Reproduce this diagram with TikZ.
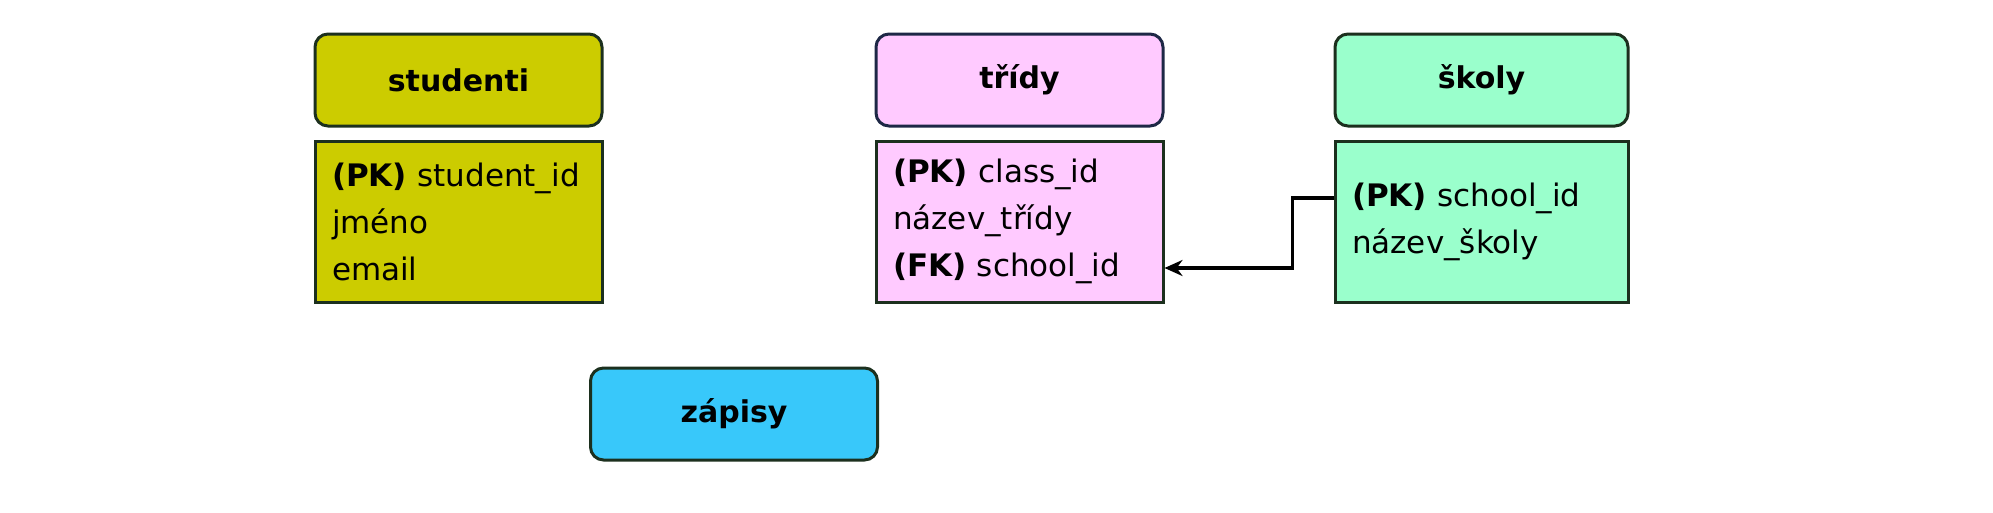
\documentclass[tikz,border=0pt]{standalone}
\usepackage{fontspec}
\setmainfont{DejaVu Sans}
\usetikzlibrary{arrows.meta}
\definecolor{cstud}{RGB}{204,204,0}
\definecolor{ctrid}{RGB}{255,202,255}
\definecolor{cskol}{RGB}{154,255,204}
\definecolor{czap}{RGB}{56,200,250}
\definecolor{cedge}{RGB}{28,48,30}
\definecolor{cedgeb}{RGB}{30,40,70}
\begin{document}
\begin{tikzpicture}[x=1pt,y=-1pt,
  hdr/.style={draw=cedge,line width=3pt,rounded corners=13pt,minimum width=287pt,minimum height=92pt,inner sep=0pt,font=\fontsize{30}{36}\selectfont\bfseries},
  bodybox/.style={draw=cedge,line width=3pt,minimum width=287pt,minimum height=161pt,inner xsep=17pt,inner ysep=0pt,text width=253pt,align=left,font=\fontsize{31}{47}\selectfont},
  fk/.style={draw=black,line width=3.5pt,-{Stealth[length=18pt,width=16pt]}}]
\useasboundingbox (0,0) rectangle (1993,512);
\fill[white] (0,0) rectangle (1993,512);
\node[hdr,fill=cstud] (studh) at (458.5,80) {studenti};
\node[bodybox,fill=cstud] (studb) at (458.5,221.5) {\textbf{(PK)} student\_id\\jméno\\email};
\node[hdr,fill=ctrid,draw=cedgeb] (tridh) at (1019.5,80) {třídy};
\node[bodybox,fill=ctrid] (tridb) at (1019.5,221.5) {\textbf{(PK)} class\_id\\název\_třídy\\\textbf{(FK)} school\_id};
\node[hdr,fill=cskol,minimum width=293pt] (skolh) at (1481.5,80) {školy};
\node[bodybox,fill=cskol,minimum width=293pt,text width=259pt] (skolb) at (1481.5,221.5) {\textbf{(PK)} school\_id\\název\_školy};
\node[hdr,fill=czap] (zap) at (734,414) {zápisy};
\draw[fk] ([yshift=23.5pt]skolb.west) -- ++(-41,0) |- ([yshift=-46.5pt]tridb.east);
\end{tikzpicture}
\end{document}
